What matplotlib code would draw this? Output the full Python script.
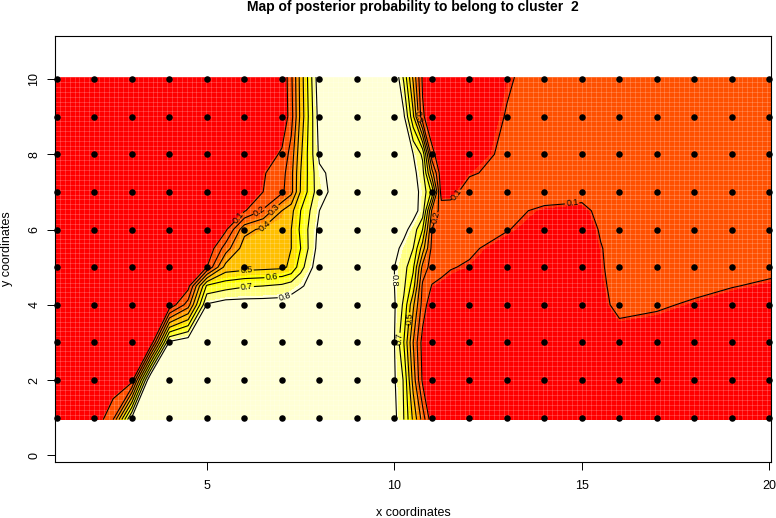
"""Map of posterior probability, cluster 2."""
import matplotlib
matplotlib.use("Agg")
import matplotlib.pyplot as plt
import numpy as np

plt.rcParams.update({
    "font.family": ["Liberation Sans", "DejaVu Sans"],
    "font.size": 9,
    "axes.linewidth": 0.8,
})

# coordinates of the sampling sites
site_x = list(range(1, 21))
site_y = list(range(1, 11))

# positions where the probability surface was read
x_nodes = [0.95, 2, 2.5, 3, 3.5, 4, 4.5, 5, 5.5, 6, 6.5, 7, 7.25, 7.5, 8, 9, 10,
           10.25, 10.5, 10.75, 11, 11.25, 11.5, 12, 13, 14, 15, 15.5, 16, 17, 18, 19, 20.05]
y_nodes = [0.95, 2, 3, 4, 4.5, 5, 5.5, 6, 6.5, 7, 7.5, 8, 9, 10.05]

# posterior probability, one list per y node
p_y1 = [.01, .01, .2, .85, .88, .88, .88, .88, .88, .88, .88, .88, .88, .88, .88, .88, .83,
        .7, .48, .26, .03, .02, .02, .02, .02, .02, .02, .02, .02, .02, .02, .02, .02]
p_y2 = [.01, .01, .01, .05, .95, .9, .9, .9, .9, .9, .9, .9, .9, .9, .9, .9, .81,
        .69, .36, .08, .01, .02, .02, .02, .02, .02, .02, .02, .02, .02, .02, .02, .02]
p_y3 = [.01, .01, .01, .01, 0, .82, .88, .88, .88, .88, .88, .88, .88, .88, .88, .9, .8,
        .6, .3, .06, .01, .02, .02, .02, .02, .02, .02, .02, .03, .03, .02, .02, .02]
p_y4 = [.01, .01, .01, .01, .01, .02, .25, .81, .85, .85, .85, .85, .86, .87, .88, .9, .81,
        .68, .42, .16, .02, .02, .02, .02, .02, .02, .02, .06, .14, .115, .085, .05, .04]
p_y45 = [.01, .01, .01, .01, .01, .01, .06, .62, .66, .69, .7, .72, .75, .79, .85, .9, .8,
         .72, .55, .18, .095, .08, .07, .03, .02, .02, .02, .08, .14, .13, .13, .105, .08]
p_y5 = [.01, .01, .01, .01, .01, .01, .01, .1, .44, .46, .47, .48, .52, .66, .88, .9, .8,
        .74, .62, .27, .15, .125, .105, .09, .03, .02, .03, .09, .14, .14, .14, .13, .13]
p_y55 = [.01, .01, .01, .01, .01, .01, .01, .01, .25, .45, .45, .46, .5, .6, .85, .9, .83,
         .77, .7, .45, .17, .14, .125, .115, .06, .03, .03, .095, .14, .14, .14, .14, .14]
p_y6 = [.01, .01, .01, .01, .01, .01, .01, .01, .08, .37, .42, .45, .5, .62, .83, .9, .88,
        .83, .76, .6, .2, .16, .14, .125, .105, .05, .04, .11, .15, .15, .15, .15, .15]
p_y65 = [.01, .01, .01, .01, .01, .01, .01, .01, .03, .09, .21, .4, .47, .6, .8, .9, .9,
         .89, .84, .76, .28, .16, .14, .14, .12, .085, .07, .13, .15, .15, .15, .15, .15]
p_y7 = [.01, .01, .01, .01, .01, .01, .01, .01, .01, .03, .1, .18, .27, .51, .77, .9, .9,
        .9, .84, .77, .58, .05, .07, .14, .14, .14, .14, .15, .15, .15, .15, .15, .15]
p_y75 = [.01, .01, .01, .01, .01, .01, .01, .01, .01, .02, .09, .16, .27, .5, .78, .9, .9,
         .88, .83, .74, .34, .03, .05, .09, .13, .14, .15, .15, .15, .15, .15, .15, .15]
p_y8 = [.01, .01, .01, .01, .01, .01, .01, .01, .01, .01, .02, .12, .24, .48, .82, .9, .9,
        .87, .8, .68, .13, .03, .03, .05, .125, .14, .15, .15, .15, .15, .15, .15, .15]
p_y9 = [.01, .01, .01, .01, .01, .01, .01, .01, .01, .01, .01, 0, .16, .43, .85, .9, .9,
        .82, .52, .12, .01, .02, .02, .04, .105, .14, .15, .15, .15, .15, .15, .15, .15]
p_y10 = [.01, .01, .01, .01, .01, .01, .01, .01, .01, .01, .01, 0, .18, .44, .88, .9, .9,
         .68, .38, .08, .01, .02, .02, .03, .09, .14, .15, .15, .15, .15, .15, .15, .15]

contour_levels = [.1, .2, .3, .4, .5, .6, .7, .8]
fill_levels = [-1, .093, .1, .21, .28, .35, .42, .5, .57, .64, .71, .78, 2]
fill_colors = ["#FF0000", "#FF2800", "#FF5000", "#FF6000", "#FF8000", "#FF9F00",
               "#FFBF00", "#FFDF00", "#FFFF00", "#FFFF2A", "#FFFF80", "#FFFFD5"]

# where the contour labels sit
label_spots = {
    .1: [(5.88, 6.3), (11.66, 6.93), (14.74, 6.67)],
    .2: [(6.46, 6.4), (11.06, 6.32)],
    .3: [(6.9, 6.45), (10.5, 9)],
    .4: [(6.64, 6.03)],
    .5: [(6.06, 4.83), (10.62, 3.63)],
    .6: [(6.73, 4.72)],
    .7: [(6.06, 4.48), (10.17, 3.1)],
    .8: [(7.1, 4.17), (10, 4.65)],
}

z = np.array([p_y1, p_y2, p_y3, p_y4, p_y45, p_y5, p_y55, p_y6, p_y65, p_y7, p_y75, p_y8, p_y9, p_y10])

fig = plt.figure(figsize=(7.76, 5.18), dpi=100)
ax = fig.add_axes([55 / 776, 1 - 462.3 / 518, 716 / 776, 426.6 / 518])

ax.contourf(x_nodes, y_nodes, z, levels=fill_levels, colors=fill_colors, zorder=1)

# faint seams between the image cells
ax.vlines(np.arange(0.95, 20.05, 0.13), 0.95, 10.05, color="white", alpha=0.22, linewidth=0.6, zorder=1.5)
ax.hlines(np.arange(0.95, 10.05, 0.13), 0.95, 20.05, color="white", alpha=0.22, linewidth=0.6, zorder=1.5)

for level in contour_levels:
    cs = ax.contour(x_nodes, y_nodes, z, levels=[level], colors="black", linewidths=0.8, zorder=2)
    ax.clabel(cs, fmt="%.1f", fontsize=6.5, inline=True, inline_spacing=1, manual=label_spots[level])

grid_x, grid_y = np.meshgrid(site_x, site_y)
ax.scatter(grid_x.ravel(), grid_y.ravel(), s=22, color="black", linewidths=0, zorder=3, clip_on=False)

ax.set_xlim(0.95, 20.04)
ax.set_ylim(-0.186, 11.15)
ax.set_xticks([5, 10, 15, 20])
ax.set_yticks([0, 2, 4, 6, 8, 10])
ax.tick_params(length=5.5, width=0.7, labelsize=9)
ax.tick_params(axis="x", pad=7)
ax.tick_params(axis="y", pad=5)
for tick_label in ax.get_yticklabels():
    tick_label.set_rotation(90)
    tick_label.set_va("center")

ax.set_xlabel("x coordinates", fontsize=9)
ax.xaxis.set_label_coords(0.5, -0.105)
ax.set_ylabel("y coordinates", fontsize=9)
ax.yaxis.set_label_coords(-0.058, 0.5)
fig.text(0.5325, 0.9995, "Map of posterior probability to belong to cluster  2", fontsize=10,
         fontweight="bold", ha="center", va="top")

fig.savefig("out.png", dpi=100)
plt.close(fig)
